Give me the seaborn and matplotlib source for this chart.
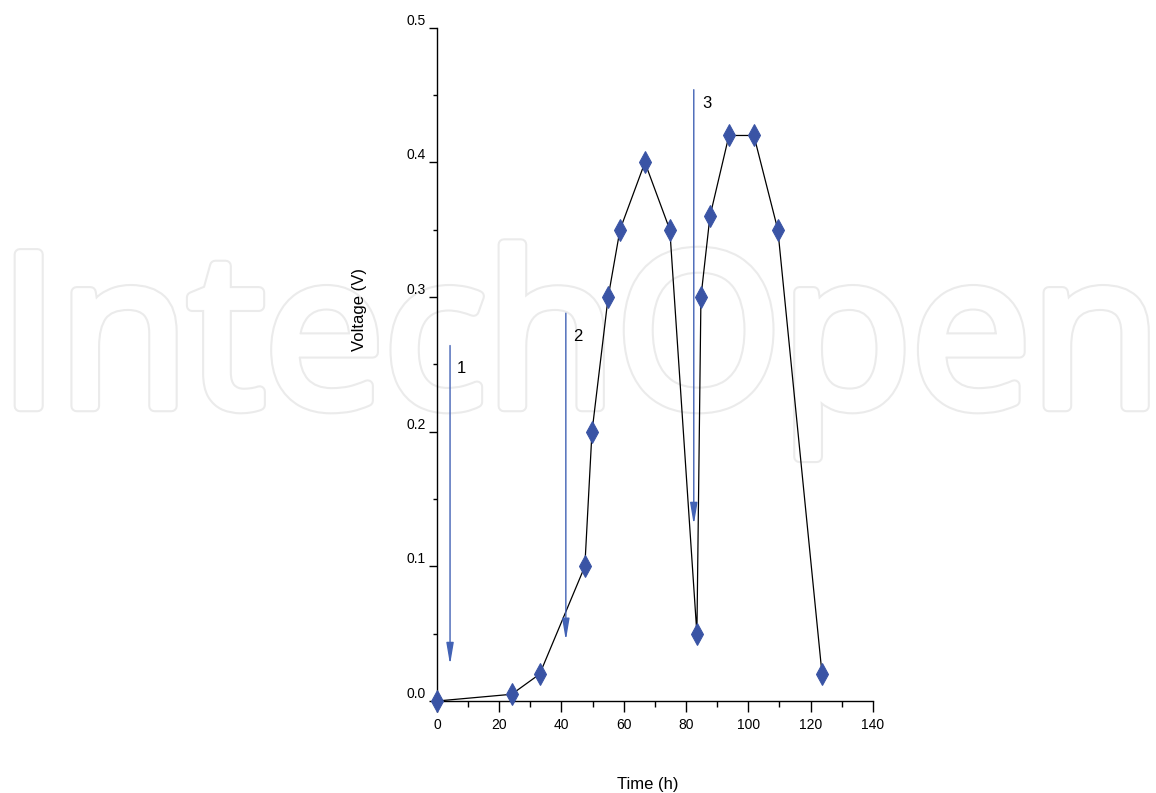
import matplotlib
matplotlib.use("Agg")
import matplotlib.pyplot as plt
import matplotlib.patheffects as pe
from matplotlib.ticker import MultipleLocator, FormatStrFormatter
import seaborn as sns

# data
time_h = [0, 24, 33, 47.5, 49.8, 55, 58.8, 66.8, 74.8, 83.5, 84.8, 87.7, 93.8, 101.8, 109.5, 123.7]
voltage = [0.0, 0.005, 0.02, 0.10, 0.20, 0.30, 0.35, 0.40, 0.35, 0.05, 0.30, 0.36, 0.42, 0.42, 0.35, 0.02]

# additions (arrows): x position, start, end, label
arrow_x = [4.2, 41.4, 82.5]
arrow_top = [0.264, 0.288, 0.454]
arrow_bottom = [0.027, 0.045, 0.131]
arrow_labels = ["1", "2", "3"]
label_x = [7.7, 45.3, 86.7]
label_y = [0.247, 0.271, 0.4435]

sns.set_style("ticks")
plt.rcParams['font.family'] = ['Liberation Sans', 'DejaVu Sans']
for k in ["text.color", "axes.labelcolor", "xtick.color", "ytick.color", "axes.edgecolor"]:
    plt.rcParams[k] = "black"

fig = plt.figure(figsize=(11.56, 7.93), dpi=100)

# faint watermark behind the plot
fig.text(0.502, 0.488, "IntechOpen", ha="center", va="baseline",
         fontsize=153, family="Open Sans", color="white", zorder=-5,
         path_effects=[pe.Stroke(linewidth=9, foreground="#ebebeb"),
                       pe.Stroke(linewidth=6, foreground="white"),
                       pe.Normal()])

ax = fig.add_axes([0.378, 0.116, 0.377, 0.849])
ax.set_facecolor("none")
ax.set_zorder(1)

sns.lineplot(x=time_h, y=voltage, ax=ax, color="black", linewidth=0.9,
             marker="d", markersize=11, markerfacecolor="#3a54a5",
             markeredgecolor="#3a54a5", clip_on=False, zorder=3)

blue = "#4262b5"
for xa, yt, yb in zip(arrow_x, arrow_top, arrow_bottom):
    ax.annotate("", xy=(xa, yb), xytext=(xa, yt),
                arrowprops=dict(arrowstyle="-|>,head_length=1.3,head_width=0.22",
                                mutation_scale=10, color=blue, lw=1,
                                shrinkA=0, shrinkB=0))
for lx, ly, lab in zip(label_x, label_y, arrow_labels):
    ax.text(lx, ly, lab, fontsize=12, ha="center", va="center")

ax.set_xlim(0, 140)
ax.set_ylim(0, 0.5)
ax.xaxis.set_major_locator(MultipleLocator(20))
ax.xaxis.set_minor_locator(MultipleLocator(10))
ax.yaxis.set_major_locator(MultipleLocator(0.1))
ax.yaxis.set_minor_locator(MultipleLocator(0.05))
ax.yaxis.set_major_formatter(FormatStrFormatter("%.1f"))

ax.tick_params(axis="x", which="major", length=8, width=1, labelsize=10, pad=4)
ax.tick_params(axis="x", which="minor", length=4, width=1)
ax.tick_params(axis="y", which="major", length=6, width=1, labelsize=10, pad=2)
ax.tick_params(axis="y", which="minor", length=3, width=1)
for lbl in ax.get_yticklabels():
    lbl.set_va("bottom")

sns.despine(ax=ax)
for s in ["left", "bottom"]:
    ax.spines[s].set_linewidth(1)

ax.set_xlabel("Time (h)", fontsize=12)
ax.set_ylabel("Voltage (V)", fontsize=12)
ax.xaxis.set_label_coords(0.484, -0.113)
ax.yaxis.set_label_coords(-0.16, 0.581)

fig.savefig("out.png", dpi=100)
